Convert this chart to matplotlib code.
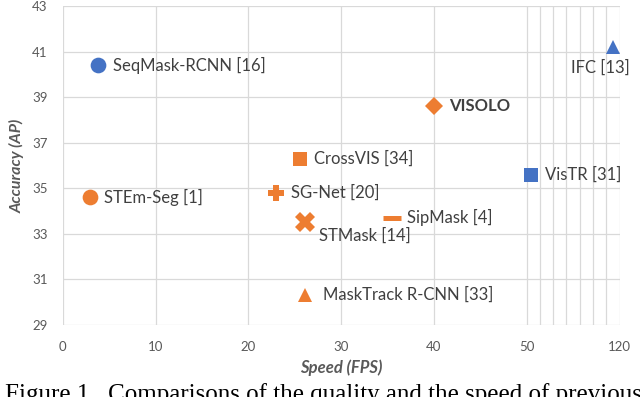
import matplotlib.pyplot as plt
import numpy as np

# values
methods = ['SeqMask-RCNN [16]', 'STEm-Seg [1]', 'CrossVIS [34]', 'SG-Net [20]', 'STMask [14]',
           'SipMask [4]', 'MaskTrack R-CNN [33]', 'VISOLO', 'VisTR [31]', 'IFC [13]']
speed = [3.8, 2.9, 25.6, 23.0, 26.1, 35.5, 26.1, 40.0, 53.6, 115.0]
accuracy = [40.4, 34.6, 36.3, 34.8, 33.5, 33.7, 30.3, 38.6, 35.6, 41.2]

x_ticks = [0, 10, 20, 30, 40, 50, 120]
x_minor = [60, 70, 80, 90, 100, 110]
y_ticks = [29, 31, 33, 35, 37, 39, 41, 43]

BLUE = '#4472C4'
ORANGE = '#ED7D31'

# marker, colour, size, label offset (px), label alignment
style = {
    'SeqMask-RCNN [16]': ('o', BLUE, 11.3, (15, 0), 'left'),
    'STEm-Seg [1]': ('o', ORANGE, 11.3, (14, 0), 'left'),
    'CrossVIS [34]': ('s', ORANGE, 10.6, (14, 0), 'left'),
    'SG-Net [20]': ('P', ORANGE, 11.0, (15, 0), 'left'),
    'STMask [14]': ('X', ORANGE, 14.0, (14, -13), 'left'),
    'SipMask [4]': ('_', ORANGE, 13.0, (15, 0), 'left'),
    'MaskTrack R-CNN [33]': ('^', ORANGE, 10.3, (18, 0), 'left'),
    'VISOLO': ('D', ORANGE, 8.9, (15, 0), 'left'),
    'VisTR [31]': ('s', BLUE, 10.6, (14, 0), 'left'),
    'IFC [13]': ('^', BLUE, 10.3, (-13, -20), 'center'),
}


def forward(x):
    x = np.asarray(x, dtype=float)
    return np.where(x <= 50, x, 50 + (x - 50) / 7.0)


def inverse(x):
    x = np.asarray(x, dtype=float)
    return np.where(x <= 50, x, 50 + (x - 50) * 7.0)


plt.rcParams['font.family'] = ['Lato', 'DejaVu Sans']

fig = plt.figure(figsize=(6.4, 3.97), dpi=100)
ax = fig.add_axes([0.098, 0.182, 0.870, 0.802])
ax.set_xscale('function', functions=(forward, inverse))
ax.set_xlim(0, 120)
ax.set_ylim(29, 43)

ax.set_xticks(x_ticks)
ax.set_xticklabels([str(t) for t in x_ticks])
ax.set_xticks(x_minor, minor=True)
ax.set_yticks(y_ticks)
ax.tick_params(axis='both', which='both', length=0, labelsize=9.5, colors='#595959')
ax.tick_params(axis='x', pad=12)
ax.tick_params(axis='y', pad=11)
ax.grid(True, which='both', color='#d9d9d9', linewidth=0.9)
ax.set_axisbelow(True)
for s in ax.spines.values():
    s.set_visible(False)

for name, x, y in zip(methods, speed, accuracy):
    marker, color, ms, offset, ha = style[name]
    if marker == '_':
        ax.plot([x], [y], marker=marker, color=color, markersize=ms, markeredgewidth=3.6,
                linestyle='none', clip_on=False)
    else:
        ax.plot([x], [y], marker=marker, color=color, markersize=ms, markeredgewidth=0,
                linestyle='none', clip_on=False)
    ax.annotate(name, (x, y), xytext=offset, textcoords='offset pixels', ha=ha, va='center',
                fontsize=12, color='#404040',
                fontweight='bold' if name == 'VISOLO' else 'normal')

ax.set_xlabel('Speed (FPS)', fontsize=12, fontweight='bold', fontstyle='italic', color='#595959',
              labelpad=4)
ax.set_ylabel('Accuracy (AP)', fontsize=11.5, fontweight='bold', fontstyle='italic', color='#595959',
              labelpad=5)

fig.text(5 / 640, (397 - 400.5) / 397, 'Figure 1.  Comparisons of the quality and the speed of previous',
         fontsize=18, family='Liberation Serif', color='black', va='baseline', ha='left')

fig.savefig('out.png', dpi=100)
